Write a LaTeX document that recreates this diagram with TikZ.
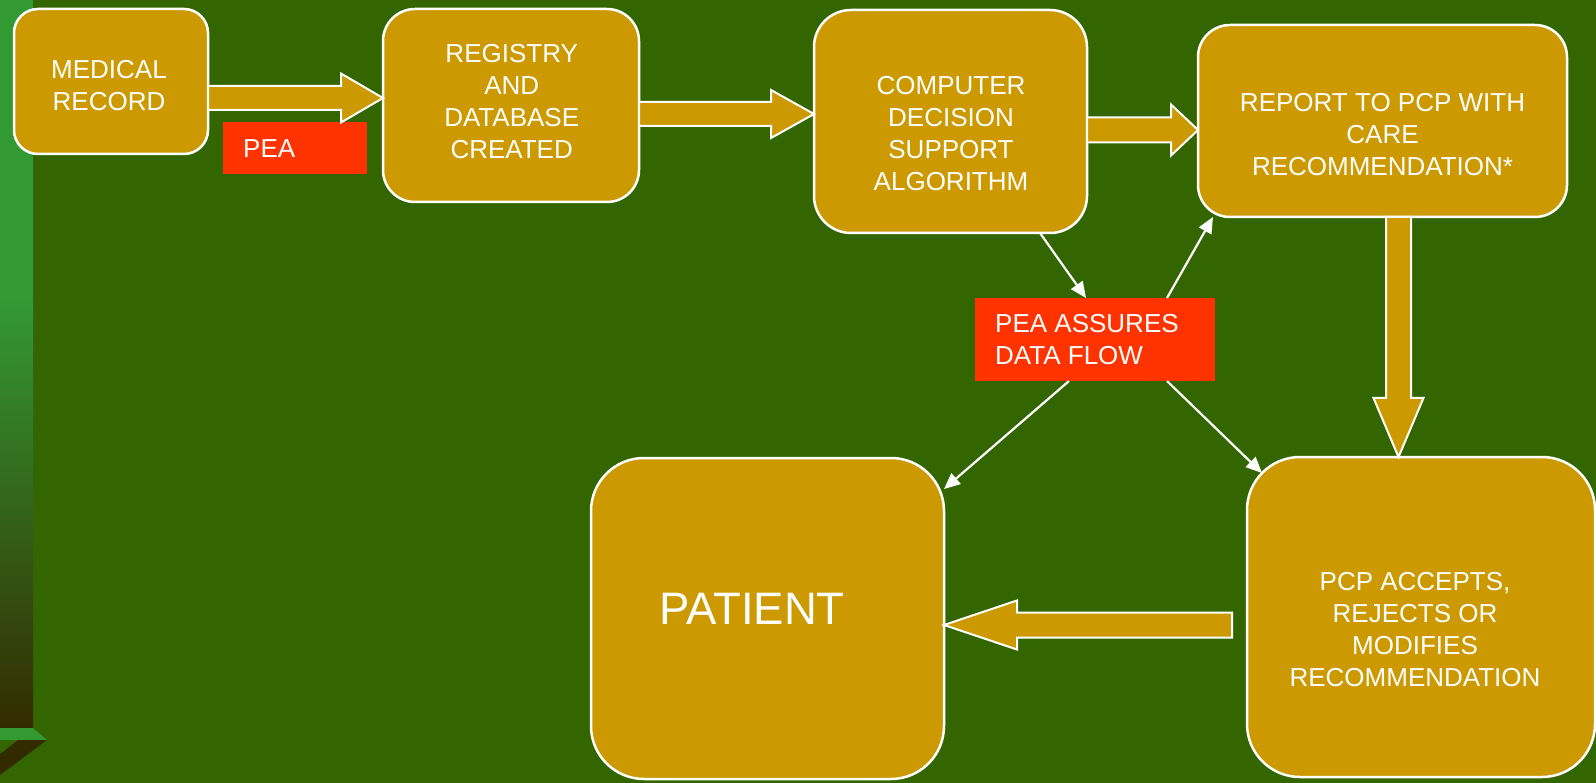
\documentclass[tikz,border=0pt]{standalone}
\usepackage{fontspec}
\setmainfont{Liberation Sans}
\usetikzlibrary{arrows.meta,calc}
\definecolor{bg}{HTML}{336600}
\definecolor{gold}{HTML}{CC9900}
\definecolor{peared}{HTML}{FF3300}
\definecolor{barg}{HTML}{339933}
\definecolor{bard}{HTML}{332B00}
\newcommand\arrowright[5]{%
  \draw[blk] ($(#1)+(0,-#3)$) -- ($(#2)+(-#5,-#3)$) -- ($(#2)+(-#5,-#4)$) -- (#2)
    -- ($(#2)+(-#5,#4)$) -- ($(#2)+(-#5,#3)$) -- ($(#1)+(0,#3)$) -- cycle;}
\newcommand\arrowleft[5]{%
  \draw[blk] ($(#1)+(0,-#3)$) -- ($(#2)+(#5,-#3)$) -- ($(#2)+(#5,-#4)$) -- (#2)
    -- ($(#2)+(#5,#4)$) -- ($(#2)+(#5,#3)$) -- ($(#1)+(0,#3)$) -- cycle;}
\newcommand\arrowdown[5]{%
  \draw[blk] ($(#1)+(-#3,0)$) -- ($(#2)+(-#3,-#5)$) -- ($(#2)+(-#4,-#5)$) -- (#2)
    -- ($(#2)+(#4,-#5)$) -- ($(#2)+(#3,-#5)$) -- ($(#1)+(#3,0)$) -- cycle;}
\begin{document}
\begin{tikzpicture}[x=1pt,y=-1pt,
  box/.style={draw=white, line width=2.5pt, fill=gold, inner sep=0pt, outer sep=0pt},
  redbox/.style={fill=peared, inner sep=0pt, outer sep=0pt},
  lbl/.style={text=white, align=center, inner sep=0pt, font=\fontsize{26}{32}\selectfont},
  lbll/.style={text=white, align=left, inner sep=0pt, font=\fontsize{26}{32}\selectfont},
  blk/.style={fill=gold, draw=white, line width=2pt, line join=miter},
  thin/.style={draw=white, line width=2.2pt, -{Triangle[length=16pt,width=14pt]}}]
\useasboundingbox (0,0) rectangle (1596,783);
\fill[bg] (0,0) rectangle (1596,783);
% left decoration
\fill[barg] (0,0) rectangle (33,300);
\shade[top color=barg, bottom color=bard] (0,300) rectangle (33,728);
\fill[barg] (0,728) -- (33,728) -- (47,740) -- (0,740) -- cycle;
\fill[bard] (18,740) -- (47,740) -- (0,775) -- (0,754) -- cycle;
% boxes
\node[box, rounded corners=24pt, minimum width=194pt, minimum height=145pt] (med) at (111,81.5) {};
\node[box, rounded corners=32pt, minimum width=256pt, minimum height=193pt] (reg) at (511,105.5) {};
\node[box, rounded corners=37pt, minimum width=273pt, minimum height=223pt] (comp) at (950.5,121.5) {};
\node[box, rounded corners=32pt, minimum width=369pt, minimum height=192pt] (rep) at (1382.5,121) {};
\node[box, rounded corners=53pt, minimum width=353pt, minimum height=321pt] (pat) at (767.5,618.5) {};
\node[box, rounded corners=53pt, minimum width=348pt, minimum height=320pt] (pcp) at (1421,617) {};
\node[redbox, minimum width=144pt, minimum height=52pt] (pea) at (295,148) {};
\node[redbox, minimum width=240pt, minimum height=83pt] (flow) at (1095,339.5) {};
% texts
\node[lbl] (medt) at (109,85.5) {MEDICAL\\RECORD};
\node[lbl] (regt) at (511.7,101.5) {REGISTRY\\AND\\DATABASE\\CREATED};
\node[lbl] (compt) at (951,133.5) {COMPUTER\\DECISION\\SUPPORT\\ALGORITHM};
\node[lbl] (rept) at (1382.5,135) {REPORT TO PCP WITH\\CARE\\RECOMMENDATION*};
\node[lbl, font=\fontsize{45.5}{54}\selectfont] (patt) at (752,608.5) {PATIENT};
\node[lbl] (pcpt) at (1415,630) {PCP ACCEPTS,\\REJECTS OR\\MODIFIES\\RECOMMENDATION};
\node[lbll, anchor=base west] (peat) at (243,158) {PEA};
\node[lbll, anchor=west] (flowt) at (995,339.7) {PEA ASSURES\\DATA FLOW};
% block arrows
\coordinate (a1s) at (med.east |- 0,98);
\coordinate (a1t) at (reg.west |- 0,98);
\coordinate (a2s) at (reg.east |- 0,114);
\coordinate (a2t) at (comp.west |- 0,114);
\coordinate (a3s) at (comp.east |- 0,130);
\coordinate (a3t) at (rep.west |- 0,130);
\coordinate (a4s) at (1398.5,0 |- rep.south);
\coordinate (a4t) at (1398.5,0 |- pcp.north);
\coordinate (a5s) at (1232,625);
\coordinate (a5t) at (pat.east |- 0,625);
\arrowright{a1s}{a1t}{12}{24.5}{42}
\arrowright{a2s}{a2t}{12}{24}{43}
\arrowright{a3s}{a3t}{12.5}{25.5}{27}
\arrowdown{a4s}{a4t}{12.5}{25}{59}
\arrowleft{a5s}{a5t}{12.5}{24.5}{73}
% thin arrows
\draw[thin] (1040,0 |- comp.south) -- (1086,0 |- flow.north);
\draw[thin] (1167,0 |- flow.north) -- (1213,0 |- rep.south);
\draw[thin] (1069,0 |- flow.south) -- (pat.east |- 0,489);
\draw[thin] (1167,0 |- flow.south) -- (1262,473);
\end{tikzpicture}
\end{document}
